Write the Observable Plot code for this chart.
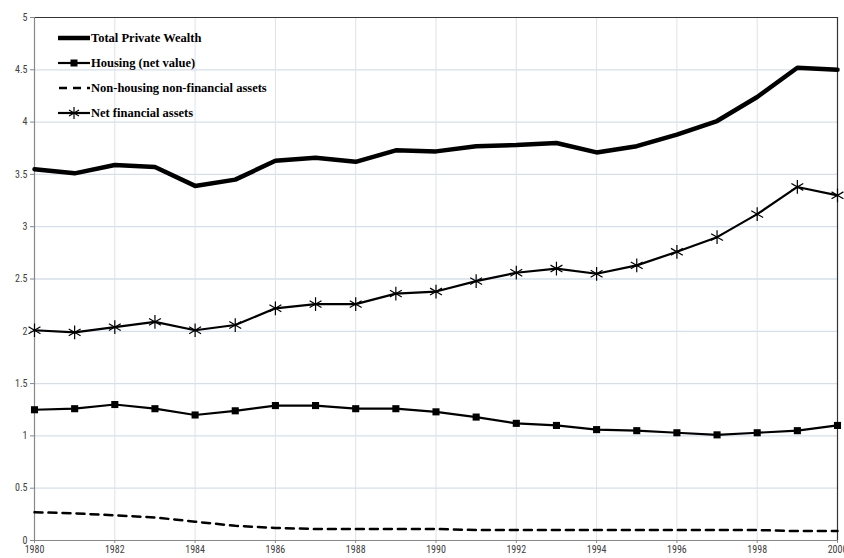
<!DOCTYPE html>
<html><head><meta charset="utf-8">
<script src="https://cdn.jsdelivr.net/npm/d3@7"></script>
<script src="https://cdn.jsdelivr.net/npm/@observablehq/plot@0.6"></script>
<style>
body{margin:0;background:#fff;}
#wrap{position:relative;width:844px;height:558px;overflow:hidden;}
#legend{position:absolute;left:58px;top:25.5px;font-family:"Liberation Serif","Times New Roman",serif;font-weight:bold;font-size:12.5px;color:#000;}
.item{display:flex;align-items:center;height:25px;white-space:nowrap;}
.item svg{margin-right:1px;}
</style></head>
<body><div id="wrap"><div id="legend"></div></div>
<script>
const years = [1980,1981,1982,1983,1984,1985,1986,1987,1988,1989,1990,1991,1992,1993,1994,1995,1996,1997,1998,1999,2000];
const totalWealth = [3.55,3.51,3.59,3.57,3.39,3.45,3.63,3.66,3.62,3.73,3.72,3.77,3.78,3.80,3.71,3.77,3.88,4.01,4.24,4.52,4.50];
const housing = [1.25,1.26,1.30,1.26,1.20,1.24,1.29,1.29,1.26,1.26,1.23,1.18,1.12,1.10,1.06,1.05,1.03,1.01,1.03,1.05,1.10];
const nonHousing = [0.27,0.26,0.24,0.22,0.18,0.14,0.12,0.11,0.11,0.11,0.11,0.10,0.10,0.10,0.10,0.10,0.10,0.10,0.10,0.09,0.09];
const netFinancial = [2.01,1.99,2.04,2.09,2.01,2.06,2.22,2.26,2.26,2.36,2.38,2.48,2.56,2.60,2.55,2.63,2.76,2.90,3.12,3.38,3.30];
const seriesNames = ["Total Private Wealth","Housing (net value)","Non-housing non-financial assets","Net financial assets"];
const xTicks = [1980,1982,1984,1986,1988,1990,1992,1994,1996,1998,2000];
const yTicks = [0,0.5,1,1.5,2,2.5,3,3.5,4,4.5,5];

const rows = years.map((y,i)=>({year:y,total:totalWealth[i],housing:housing[i],non:nonHousing[i],net:netFinancial[i]}));

const tickFont = {fontFamily:"'Liberation Sans Narrow','Roboto Condensed','Arial Narrow',sans-serif", fontSize:"10px", fill:"#404040"};

const chart = Plot.plot({
  width:844, height:558,
  marginLeft:34, marginRight:7, marginTop:17, marginBottom:18,
  x:{domain:[1980,2000], label:null},
  y:{domain:[0,5], label:null},
  style:{background:"#fff", overflow:"visible", ...tickFont},
  marks:[
    Plot.ruleY(yTicks.filter(d=>d>0&&d<5), {stroke:"#d3dfee", strokeWidth:1.3}),
    Plot.ruleX(xTicks.filter(d=>d>1980&&d<2000), {stroke:"#dde2e9", strokeWidth:1}),
    Plot.ruleY([5], {stroke:"#333", strokeWidth:1.2}),
    Plot.ruleX([2000], {stroke:"#333", strokeWidth:1.2}),
    Plot.ruleX([1980], {stroke:"#888", strokeWidth:1.2}),
    Plot.ruleY([0], {stroke:"#888", strokeWidth:1.2}),
    Plot.axisX({ticks:xTicks, tickFormat:d=>String(d), tickSize:3, tickPadding:2, stroke:"#888", fill:"#404040", fontSize:10, label:null}),
    Plot.axisY({ticks:yTicks, tickFormat:d=>String(d), tickSize:4, tickPadding:3, stroke:"#888", fill:"#404040", fontSize:10, label:null}),
    Plot.line(rows, {x:"year", y:"non", stroke:"#000", strokeWidth:2.5, strokeDasharray:"8,6"}),
    Plot.line(rows, {x:"year", y:"housing", stroke:"#000", strokeWidth:2.2}),
    Plot.dot(rows, {x:"year", y:"housing", symbol:"square", fill:"#000", r:4}),
    Plot.line(rows, {x:"year", y:"net", stroke:"#000", strokeWidth:2.2}),
    Plot.dot(rows, {x:"year", y:"net", symbol:"asterisk", stroke:"#000", strokeWidth:1.2, r:6.5}),
    Plot.line(rows, {x:"year", y:"total", stroke:"#000", strokeWidth:4.5})
  ]
});
document.getElementById("wrap").prepend(chart);

const samples = [
  `<line x1="0" y1="8" x2="32" y2="8" stroke="#000" stroke-width="4.5"/>`,
  `<line x1="0" y1="8" x2="32" y2="8" stroke="#000" stroke-width="2.2"/><rect x="12.5" y="4.5" width="7" height="7" fill="#000"/>`,
  `<line x1="1" y1="8" x2="32" y2="8" stroke="#000" stroke-width="2.5" stroke-dasharray="8,6"/>`,
  `<line x1="0" y1="8" x2="32" y2="8" stroke="#000" stroke-width="2.2"/><g stroke="#000" stroke-width="1.2"><line x1="16" y1="2" x2="16" y2="14"/><line x1="11" y1="5" x2="21" y2="11"/><line x1="11" y1="11" x2="21" y2="5"/></g>`
];
const leg = document.getElementById("legend");
seriesNames.forEach((name,i)=>{
  const d = document.createElement("div");
  d.className = "item";
  d.innerHTML = `<svg width="32" height="16">${samples[i]}</svg><span>${name}</span>`;
  leg.appendChild(d);
});
</script>
</body></html>
